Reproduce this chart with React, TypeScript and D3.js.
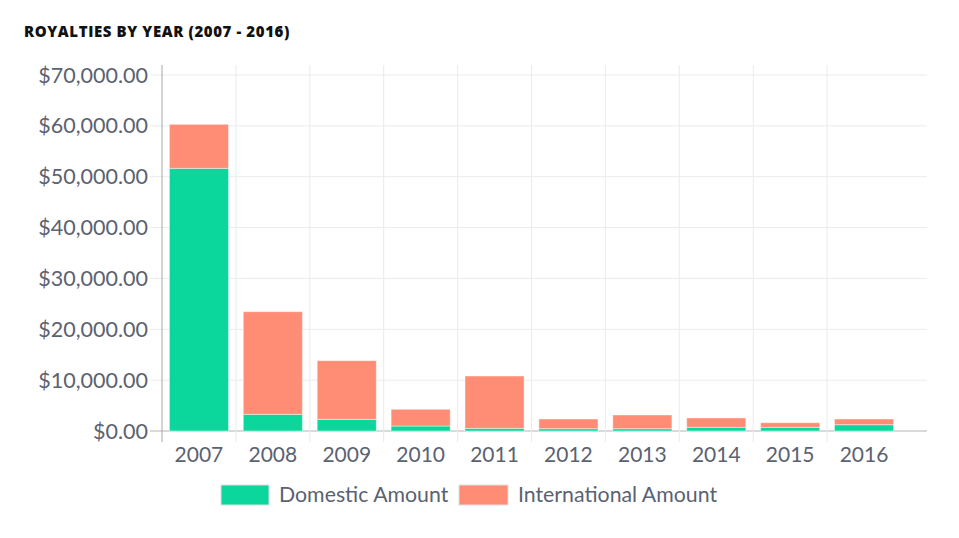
import React from "react";
import * as d3 from "d3";

const years = ["2007", "2008", "2009", "2010", "2011", "2012", "2013", "2014", "2015", "2016"];
const domestic = [51650, 3280, 2300, 980, 530, 450, 450, 730, 730, 1240];
const international = [8650, 20180, 11530, 3290, 10280, 1910, 2700, 1830, 900, 1120];
const yTicks = [0, 10000, 20000, 30000, 40000, 50000, 60000, 70000];
const seriesNames = ["Domestic Amount", "International Amount"];
const colors = ["#0bd69b", "#ff8c74"];

const W = 959;
const H = 538;
const left = 162;
const right = 901;
const gridRight = 927;
const top = 75;
const bottom = 431;
const FONT = "Lato, 'Open Sans', sans-serif";
const TEXT = "#5b6270";

export default function App() {
  const x = d3.scaleBand<string>().domain(years).range([left, right]).padding(0);
  const y = d3.scaleLinear().domain([0, 70000]).range([bottom, top]);
  const fmt = (v: number) => "$" + d3.format(",.2f")(v);
  const rows = years.map((yr, i) => ({ year: yr, Domestic: domestic[i], International: international[i] }));
  const stacked = d3.stack<any>().keys(["Domestic", "International"])(rows);
  const bw = x.bandwidth();
  const inset = bw * 0.1;

  return (
    <div style={{ position: "absolute", left: 0, top: 0 }}>
      <svg width={W} height={H} style={{ display: "block", background: "#fff" }}>
        <text x={24} y={37} fontFamily="'Open Sans', sans-serif" fontWeight={800} fontSize={15} letterSpacing={0.6} fill="#111">
          ROYALTIES BY YEAR (2007 - 2016)
        </text>
        {/* horizontal gridlines */}
        {yTicks.map((t) => (
          <g key={t}>
            <line x1={150} x2={gridRight} y1={y(t)} y2={y(t)} stroke={t === 0 ? "#b5b5b5" : "#ebebeb"} strokeWidth={1} />
            <text x={148} y={y(t)} dy="0.35em" textAnchor="end" fontFamily={FONT} fontSize={21.5} fill={TEXT}>
              {fmt(t)}
            </text>
          </g>
        ))}
        {/* vertical gridlines */}
        {years.slice(1).map((yr) => (
          <line key={yr} x1={x(yr)!} x2={x(yr)!} y1={65} y2={442} stroke="#ebebeb" strokeWidth={1} />
        ))}
        <line x1={left} x2={left} y1={65} y2={442} stroke="#a8a8a8" strokeWidth={1} />
        {/* bars */}
        {stacked.map((s, si) => (
          <g key={si} fill={colors[si]}>
            {s.map((d, i) => (
              <rect
                key={i}
                x={x(years[i])! + inset}
                width={bw - 2 * inset}
                y={y(d[1])}
                height={y(d[0]) - y(d[1])}
                stroke="rgba(255,255,255,0.45)"
                strokeWidth={1}
              />
            ))}
          </g>
        ))}
        {/* x labels */}
        {years.map((yr) => (
          <text key={yr} x={x(yr)! + bw / 2} y={462} textAnchor="middle" fontFamily={FONT} fontSize={21} fill={TEXT}>
            {yr}
          </text>
        ))}
        {/* legend */}
        <g>
          <rect x={221} y={485} width={48} height={20} fill={colors[0]} stroke="#e0e0e0" />
          <text x={279} y={495} dy="0.35em" fontFamily={FONT} fontSize={21.3} fill={TEXT}>{seriesNames[0]}</text>
          <rect x={459} y={485} width={49} height={20} fill={colors[1]} stroke="#e0e0e0" />
          <text x={518} y={495} dy="0.35em" fontFamily={FONT} fontSize={21.3} fill={TEXT}>{seriesNames[1]}</text>
        </g>
      </svg>
    </div>
  );
}
